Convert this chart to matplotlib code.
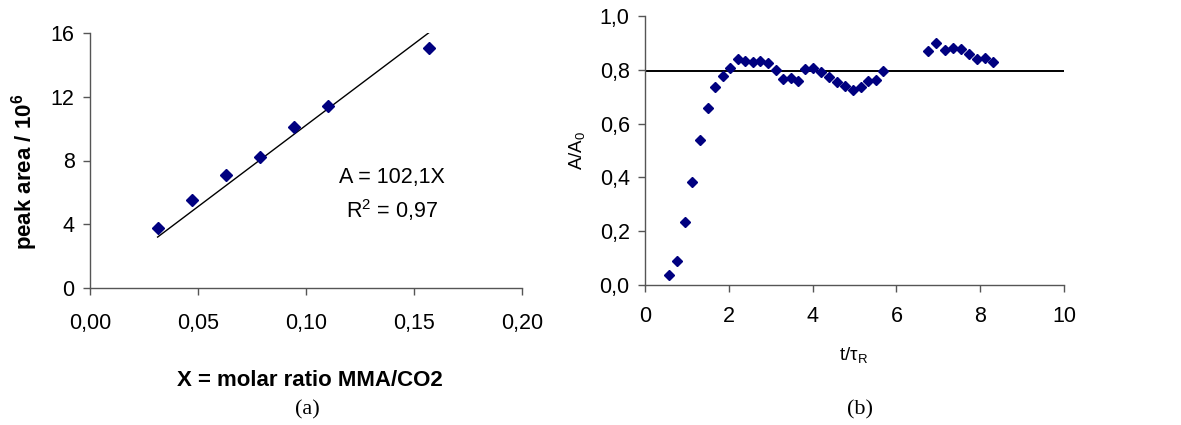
import matplotlib
matplotlib.use("Agg")
import matplotlib.pyplot as plt
from matplotlib.ticker import FuncFormatter, MultipleLocator

# ---- data (a) ----
x_a = [0.0313, 0.0470, 0.0630, 0.0788, 0.0944, 0.1100, 0.1570]
y_a = [3.75, 5.53, 7.06, 8.23, 10.1, 11.4, 15.06]
slope_a = 102.1
fit_x = [0.0313, 0.1570]

# ---- data (b) ----
x_b = [0.58, 0.77, 0.95, 1.13, 1.31, 1.50, 1.67, 1.85, 2.04, 2.21, 2.39, 2.57,
       2.75, 2.94, 3.12, 3.29, 3.48, 3.66, 3.83, 4.02, 4.19, 4.39, 4.59, 4.77,
       4.96, 5.16, 5.33, 5.51, 5.69,
       6.75, 6.95, 7.17, 7.35, 7.53, 7.74, 7.93, 8.11, 8.30]
y_b = [0.036, 0.089, 0.235, 0.384, 0.540, 0.657, 0.736, 0.778, 0.805, 0.839,
       0.833, 0.828, 0.833, 0.824, 0.798, 0.766, 0.771, 0.758, 0.804, 0.807,
       0.793, 0.774, 0.755, 0.739, 0.726, 0.737, 0.760, 0.763, 0.797,
       0.870, 0.898, 0.874, 0.882, 0.877, 0.857, 0.841, 0.843, 0.829]
hline_b = 0.794

NAVY = "#000080"
SANS = ["Liberation Sans", "DejaVu Sans"]
SERIF = ["Liberation Serif", "DejaVu Serif"]
plt.rcParams["font.family"] = SANS
plt.rcParams["mathtext.fontset"] = "custom"
plt.rcParams["mathtext.rm"] = "Liberation Sans"
plt.rcParams["mathtext.bf"] = "Liberation Sans:bold"

W, H = 1181, 425
fig = plt.figure(figsize=(W / 100, H / 100), dpi=100)

def comma(fmt):
    return FuncFormatter(lambda v, p: fmt.format(v).replace(".", ","))

def style(ax):
    for s in ("top", "right"):
        ax.spines[s].set_visible(False)
    for s in ("left", "bottom"):
        ax.spines[s].set_color("#555555")
        ax.spines[s].set_linewidth(1.0)
    ax.tick_params(direction="out", length=5, width=1.0, color="#555555",
                   labelsize=15.5, pad=6)

# ---- panel (a) ----
ax1 = fig.add_axes([90 / W, 1 - 288 / H, (522 - 90) / W, (288 - 33) / H])
style(ax1)
ax1.set_xlim(0, 0.20)
ax1.set_ylim(0, 16)
ax1.xaxis.set_major_locator(MultipleLocator(0.05))
ax1.yaxis.set_major_locator(MultipleLocator(4))
ax1.xaxis.set_major_formatter(comma("{:.2f}"))
ax1.yaxis.set_major_formatter(FuncFormatter(lambda v, p: f"{v:.0f}"))
ax1.tick_params(axis="x", pad=13)
ax1.plot(fit_x, [slope_a * v for v in fit_x], color="black", lw=1.0, zorder=2)
ax1.plot(x_a, y_a, linestyle="none", marker="D", ms=6.3, color=NAVY, zorder=3,
         clip_on=False)
ax1.text(0.140, 6.96, "A = 102,1X", ha="center", va="center", fontsize=15.5)
ax1.text(0.140, 4.9, "R$^2$ = 0,97", ha="center", va="center", fontsize=15.5)

fig.text(25 / W, 1 - 172 / H, "peak area / 10$^\\mathbf{6}$", rotation=90,
         ha="center", va="center", fontsize=16, fontweight="bold")
fig.text(310 / W, 1 - 380 / H, "X = molar ratio MMA/CO2", ha="center",
         va="center", fontsize=16, fontweight="bold")
fig.text(307 / W, 1 - 410 / H, "(a)", ha="center", va="center", fontsize=16,
         family=SERIF)

# ---- panel (b) ----
ax2 = fig.add_axes([645 / W, 1 - 285 / H, (1064 - 645) / W, (285 - 16) / H])
style(ax2)
ax2.set_xlim(0, 10)
ax2.set_ylim(0, 1.0)
ax2.xaxis.set_major_locator(MultipleLocator(2))
ax2.yaxis.set_major_locator(MultipleLocator(0.2))
ax2.xaxis.set_major_formatter(FuncFormatter(lambda v, p: f"{v:.0f}"))
ax2.yaxis.set_major_formatter(comma("{:.1f}"))
ax2.tick_params(axis="x", pad=10)
ax2.axhline(hline_b, color="black", lw=1.4, zorder=2)
ax2.plot(x_b, y_b, linestyle="none", marker="D", ms=4.8, color=NAVY, zorder=3,
         clip_on=False)

fig.text(578 / W, 1 - 150 / H, "A/A$_{\\mathrm{0}}$", rotation=90, ha="center",
         va="center", fontsize=13.5)
fig.text(853 / W, 1 - 356 / H, "t/τ$_{\\mathrm{R}}$", ha="center", va="center",
         fontsize=13.5)
fig.text(860 / W, 1 - 410 / H, "(b)", ha="center", va="center", fontsize=16,
         family=SERIF)

fig.savefig("out.png", dpi=100)
